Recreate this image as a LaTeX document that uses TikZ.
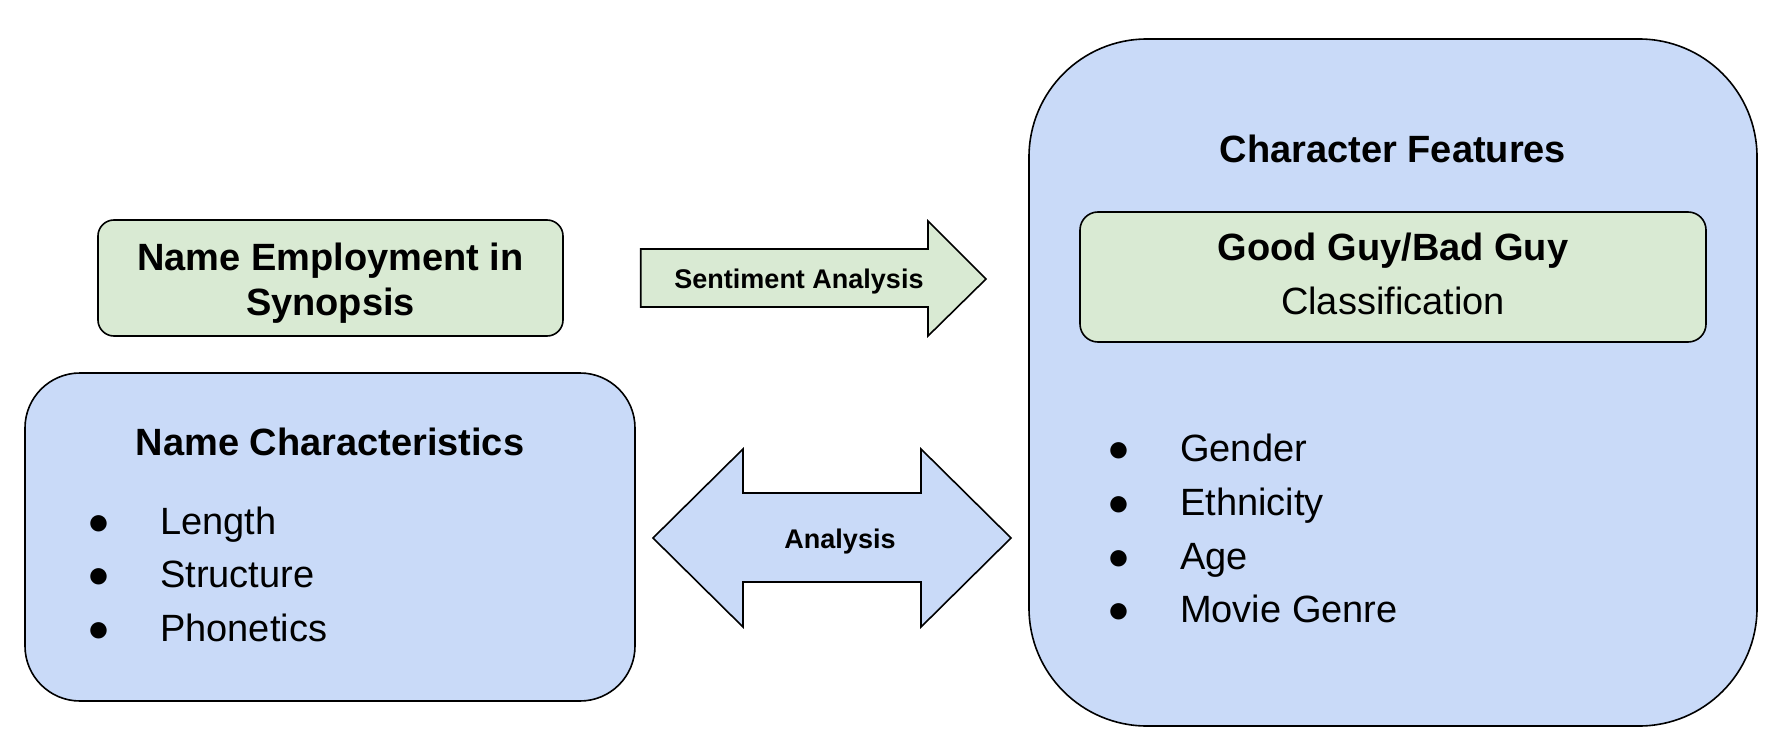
\documentclass[tikz,border=0pt]{standalone}
\usepackage{fontspec}
\setmainfont{Liberation Sans}
\definecolor{boxgreen}{HTML}{D9EAD3}
\definecolor{boxblue}{HTML}{C9DAF8}
\begin{document}
\begin{tikzpicture}[x=1pt,y=-1pt,
  shapebox/.style={draw=black, line width=1.6pt},
  boxnode/.style={shapebox, rectangle, inner sep=0pt},
  lbl/.style={inner sep=0pt, anchor=base},
  lblw/.style={inner sep=0pt, anchor=base west},
  bigreg/.style={font=\fontsize{38}{46}\selectfont},
  bigbold/.style={font=\fontsize{38}{46}\selectfont\bfseries},
  smallbold/.style={font=\fontsize{27}{32}\selectfont\bfseries}]
\fill[white] (0,0) rectangle (1790,754);
\useasboundingbox (0,0) rectangle (1790,754);

% boxes
\node[boxnode, fill=boxgreen, rounded corners=16pt, minimum width=465pt, minimum height=116pt] (emp) at (330.5,278) {};
\node[boxnode, fill=boxblue, rounded corners=55pt, minimum width=610pt, minimum height=328pt] (namechar) at (330,537) {};
\node[boxnode, fill=boxblue, rounded corners=118pt, minimum width=728pt, minimum height=687pt] (charfeat) at (1393,382.5) {};
\node[boxnode, fill=boxgreen, rounded corners=18pt, minimum width=626pt, minimum height=130pt] (goodbad) at (1393,277) {};

% block arrows
\draw[shapebox, fill=boxgreen] (640.7,249) -- (928,249) -- (928,221) -- (986,279) -- (928,336) -- (928,307) -- (640.7,307) -- cycle;
\draw[shapebox, fill=boxblue] (653,538) -- (743,449) -- (743,493) -- (921,493) -- (921,449) -- (1011,538) -- (921,627) -- (921,582) -- (743,582) -- (743,627) -- cycle;

% texts
\node[lbl, bigbold] (empa) at (330.5,270) {Name Employment in};
\node[lbl, bigbold] (empb) at (330.5,315) {Synopsis};
\node[lbl, bigbold] (nct) at (330,455) {Name Characteristics};
\node[lbl, bigbold] (cft) at (1393,163) {Character Features};
\node[lbl, bigbold] (gba) at (1393,260.5) {Good Guy/Bad Guy};
\node[lbl, bigreg] (gbb) at (1393,314) {Classification};
\node[lbl, smallbold] (sent) at (799,288) {Sentiment Analysis};
\node[lbl, smallbold] (anal) at (840,548) {Analysis};

\foreach \t/\y [count=\i] in {Length/534, Structure/587.5, Phonetics/641} {
  \node[lbl, bigreg] (nb\i) at (99,\y) {●};
  \node[lblw, bigreg] (nt\i) at (160,\y) {\t};
}
\foreach \t/\y [count=\i] in {Gender/461, Ethnicity/515.5, Age/569.5, Movie Genre/622.5} {
  \node[lbl, bigreg] (cb\i) at (1119,\y) {●};
  \node[lblw, bigreg] (ct\i) at (1180,\y) {\t};
}
\end{tikzpicture}
\end{document}
